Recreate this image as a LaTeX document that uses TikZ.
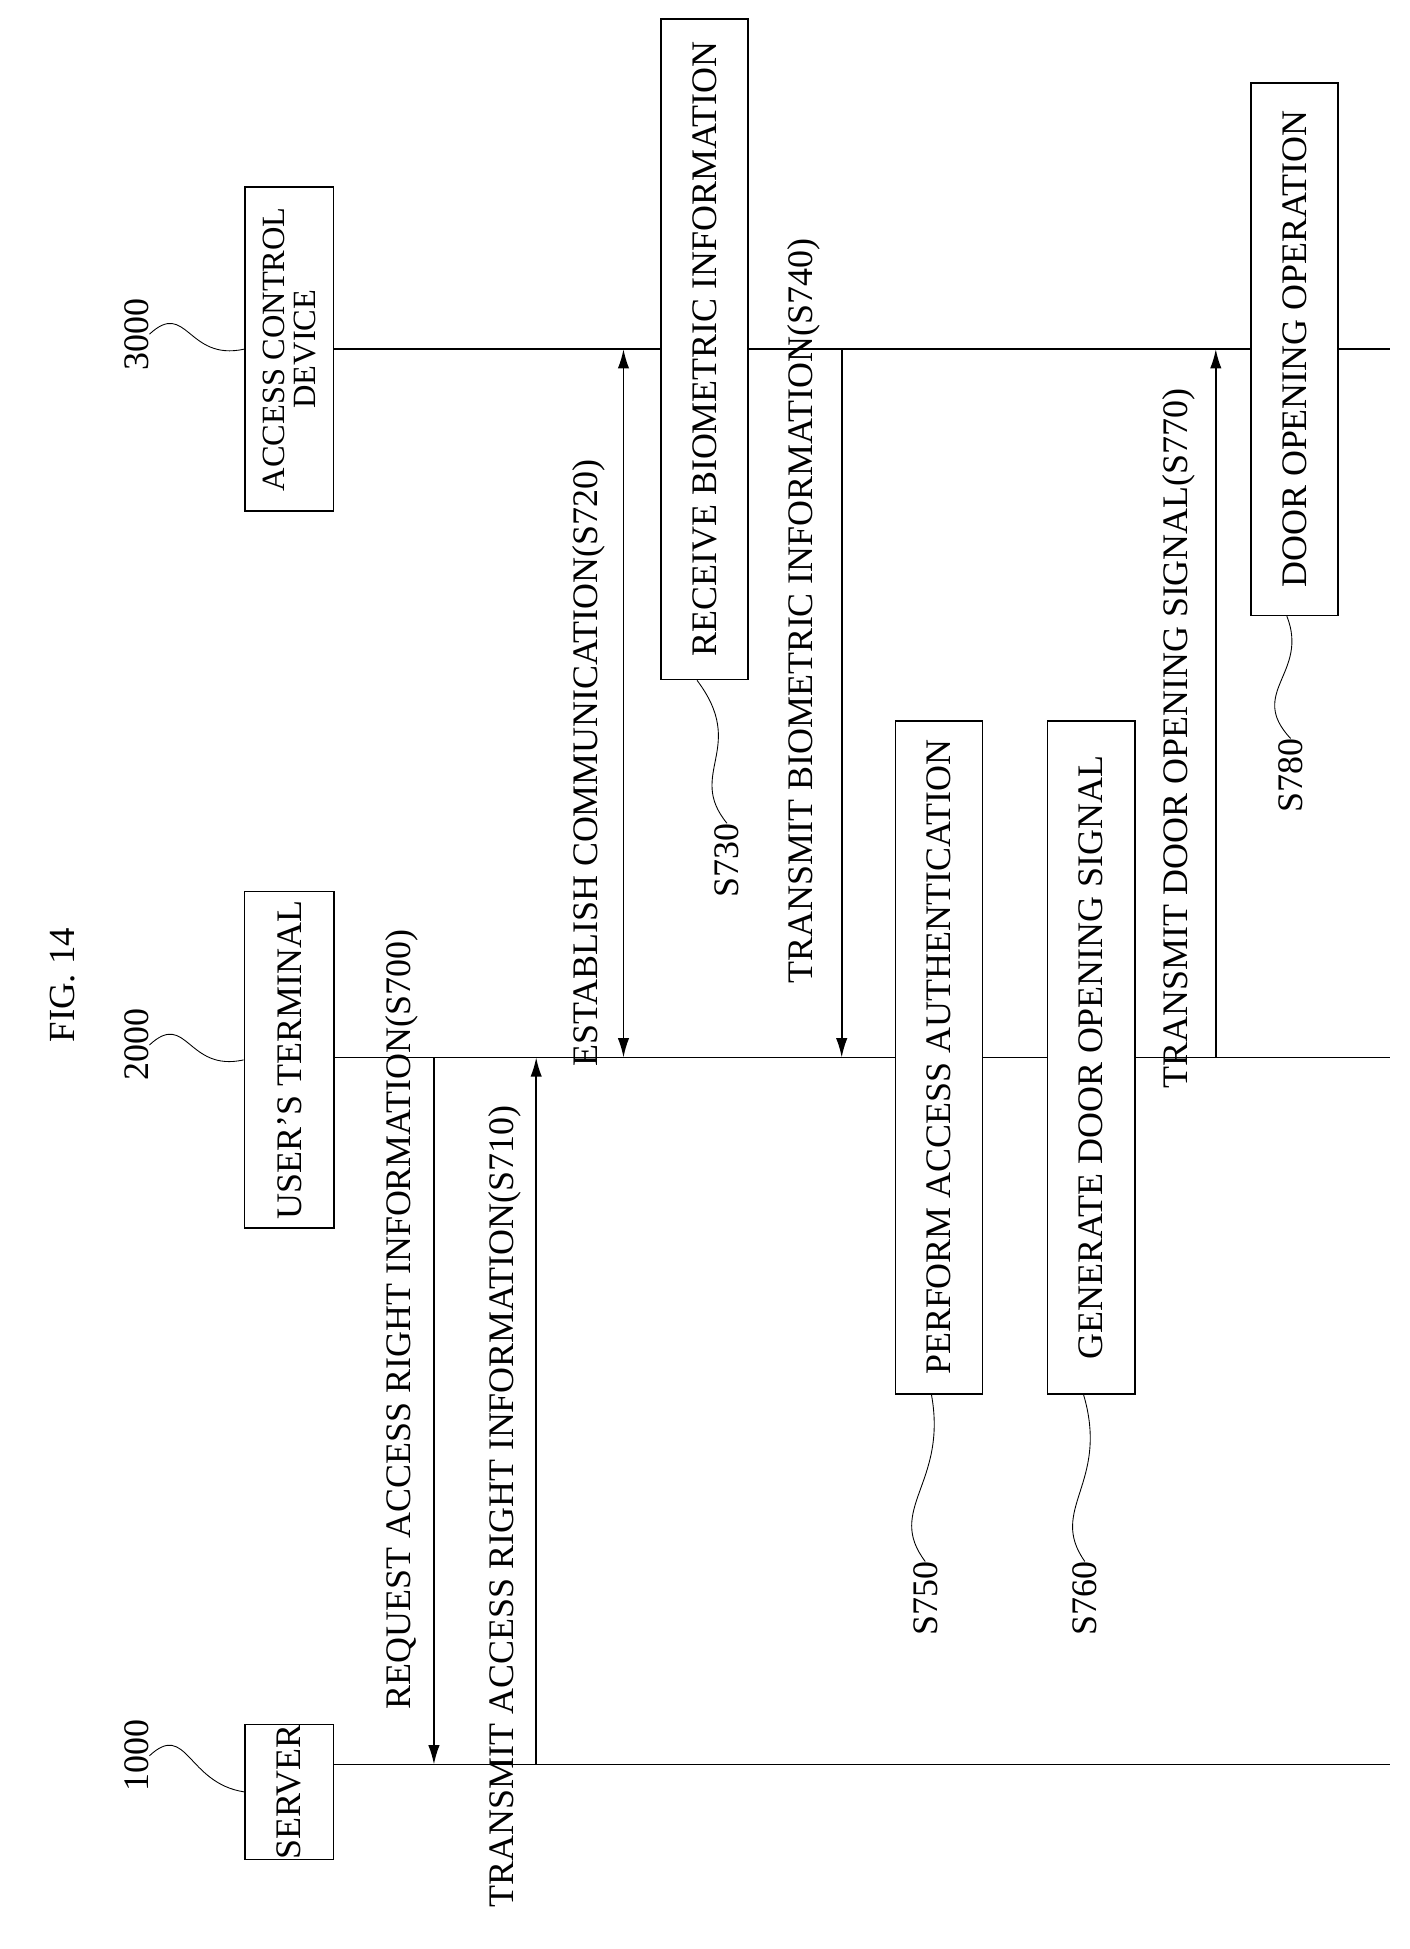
\documentclass[tikz,border=0pt]{standalone}
\usepackage{fontspec}
\setmainfont{Liberation Serif}
\usetikzlibrary{arrows.meta}
\begin{document}
\begin{tikzpicture}[x=0.05cm,y=-0.05cm,
  every node/.style={font=\fontsize{41}{44}\selectfont},
  box/.style={draw,line width=1.8pt,fill=white,rotate=90,inner sep=0pt,align=center},
  lbl/.style={rotate=90,inner sep=0pt},
  life/.style={line width=1.8pt},
  tip/.style={Latex[length=22pt,width=13pt]},
  msg/.style={line width=1.8pt,-{Latex[length=22pt,width=13pt]}},
  wave/.style={line width=1pt}]
\useasboundingbox (0,0) rectangle (1130,1563);
\node[lbl,font=\fontsize{42}{46}\selectfont] (fig) at (50,790) {FIG. 14};
% lifelines
\coordinate (s0) at (268,1415); \coordinate (s1) at (1115,1415);
\coordinate (t0) at (268,848); \coordinate (t1) at (1115,848);
\coordinate (a0) at (268,280); \coordinate (a1) at (1115,280);
\draw[life] (s0) -- (s1); \draw[life] (t0) -- (t1); \draw[life] (a0) -- (a1);
% participant boxes
\node[box,minimum width=4.25cm,minimum height=3.55cm] (srv) at (232,1437) {SERVER};
\node[box,minimum width=13.5cm,minimum height=3.6cm] (ut) at (232,850) {USER'S TERMINAL};
\node[box,minimum width=13cm,minimum height=3.55cm,font=\fontsize{37}{36}\selectfont] (acd) at (232,280) {ACCESS CONTROL\\DEVICE};
\node[lbl] (n1) at (110,1408) {1000};
\node[lbl] (n2) at (110,838) {2000};
\node[lbl] (n3) at (110,268) {3000};
\draw[wave] (n1.south) .. controls (150,1380) and (150,1430) .. (srv.north);
\draw[wave] (n2.south) .. controls (150,810) and (150,860) .. (ut.north);
\draw[wave] (n3.south) .. controls (150,240) and (150,290) .. (acd.north);
% messages
\coordinate (m0a) at (348,848); \coordinate (m0b) at (348,1415);
\draw[msg] (m0a) -- (m0b);
\node[lbl] (l0) at (322,1058) {REQUEST ACCESS RIGHT INFORMATION(S700)};
\coordinate (m1a) at (430,1415); \coordinate (m1b) at (430,848);
\draw[msg] (m1a) -- (m1b);
\node[lbl] (l1) at (405,1208) {TRANSMIT ACCESS RIGHT INFORMATION(S710)};
\coordinate (m2a) at (500,848); \coordinate (m2b) at (500,280);
\draw[line width=1.8pt,{Latex[length=22pt,width=13pt]}-{Latex[length=22pt,width=13pt]}] (m2a) -- (m2b);
\node[lbl] (l2) at (472,612) {ESTABLISH COMMUNICATION(S720)};
\node[box,minimum width=26.5cm,minimum height=3.5cm] (b730) at (565,280) {RECEIVE BIOMETRIC INFORMATION};
\node[lbl] (n730) at (583,690) {S730};
\draw[wave] (n730.east) .. controls (550,620) and (600,600) .. ([xshift=-0.3cm]b730.west);
\coordinate (m4a) at (675,280); \coordinate (m4b) at (675,848);
\draw[msg] (m4a) -- (m4b);
\node[lbl] (l4) at (645,490) {TRANSMIT BIOMETRIC INFORMATION(S740)};
\node[box,minimum width=27cm,minimum height=3.5cm] (b750) at (753,848) {PERFORM ACCESS AUTHENTICATION};
\node[lbl] (n750) at (742,1282) {S750};
\draw[wave] (n750.east) .. controls (710,1210) and (760,1190) .. ([xshift=-0.3cm]b750.west);
\node[box,minimum width=27cm,minimum height=3.5cm] (b760) at (875,848) {GENERATE DOOR OPENING SIGNAL};
\node[lbl] (n760) at (870,1282) {S760};
\draw[wave] (n760.east) .. controls (840,1210) and (890,1190) .. ([xshift=-0.3cm]b760.west);
\coordinate (m7a) at (975,848); \coordinate (m7b) at (975,280);
\draw[msg] (m7a) -- (m7b);
\node[lbl] (l7) at (945,592) {TRANSMIT DOOR OPENING SIGNAL(S770)};
\node[box,minimum width=21.35cm,minimum height=3.5cm] (b780) at (1038,280) {DOOR OPENING OPERATION};
\node[lbl] (n780) at (1035,622) {S780};
\draw[wave] (n780.east) .. controls (1000,555) and (1050,540) .. ([xshift=-0.3cm]b780.west);
\end{tikzpicture}
\end{document}
